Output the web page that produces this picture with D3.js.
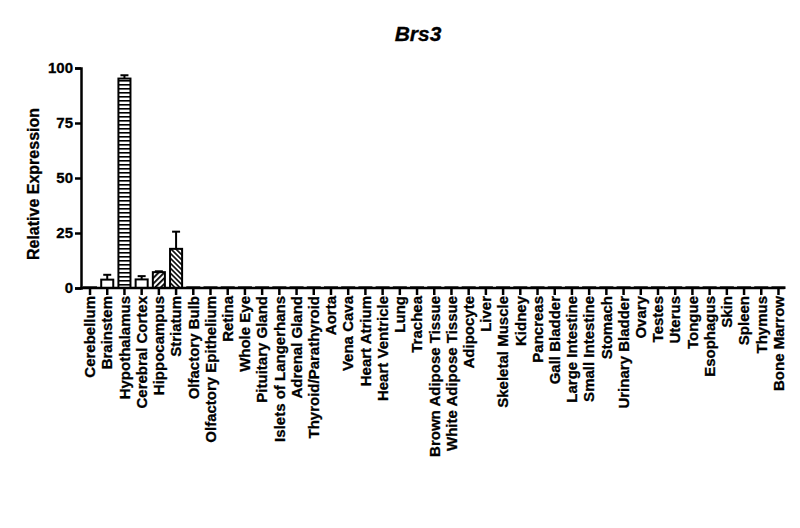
<!DOCTYPE html>
<html>
<head>
<meta charset="utf-8">
<script src="https://cdn.jsdelivr.net/npm/d3@7"></script>
<style>
  body { margin: 0; background: #fff; }
  text { font-family: "Liberation Sans", Arial, sans-serif; font-weight: bold; fill: #000; stroke: #000; stroke-width: 0.3px; }
</style>
</head>
<body>
<div id="chart"></div>
<script>
var tissues = ["Cerebellum", "Brainstem", "Hypothalamus", "Cerebral Cortex", "Hippocampus",
  "Striatum", "Olfactory Bulb", "Olfactory Epithelium", "Retina", "Whole Eye",
  "Pituitary Gland", "Islets of Langerhans", "Adrenal Gland", "Thyroid/Parathyroid", "Aorta",
  "Vena Cava", "Heart Atrium", "Heart Ventricle", "Lung", "Trachea",
  "Brown Adipose Tissue", "White Adipose Tissue", "Adipocyte", "Liver", "Skeletal Muscle",
  "Kidney", "Pancreas", "Gall Bladder", "Large Intestine", "Small Intestine",
  "Stomach", "Urinary Bladder", "Ovary", "Testes", "Uterus",
  "Tongue", "Esophagus", "Skin", "Spleen", "Thymus", "Bone Marrow"];

var means = [0.3, 3.8, 95.2, 3.9, 7.2, 17.8, 0.3, 0.3, 0.3, 0.3,
  0.3, 0.3, 0.3, 0.3, 0.3, 0.3, 0.3, 0.3, 0.3, 0.3,
  0.3, 0.3, 0.3, 0.3, 0.3, 0.3, 0.3, 0.3, 0.3, 0.3,
  0.3, 0.3, 0.3, 0.3, 0.3, 0.3, 0.3, 0.3, 0.3, 0.3, 0.3];

var errors = [0, 2.2, 1.5, 1.5, 0.4, 7.8, 0, 0, 0, 0,
  0, 0, 0, 0, 0, 0, 0, 0, 0, 0,
  0, 0, 0, 0, 0, 0, 0, 0, 0, 0,
  0, 0, 0, 0, 0, 0, 0, 0, 0, 0, 0];

// fill per bar: GraphPad-style patterns on the brain regions
var fills = ["#fff", "#fff", "url(#hstripe)", "#fff", "url(#fwd)", "url(#back)"];

var yTicks = [0, 25, 50, 75, 100];

var width = 800, height = 528;

var svg = d3.select("#chart").append("svg")
    .attr("width", width)
    .attr("height", height);

var defs = svg.append("defs");

var hs = defs.append("pattern").attr("id", "hstripe")
    .attr("patternUnits", "userSpaceOnUse").attr("width", 6).attr("height", 4);
hs.append("rect").attr("width", 6).attr("height", 4).attr("fill", "#fff");
hs.append("rect").attr("y", 0).attr("width", 6).attr("height", 1.6).attr("fill", "#000");

var fw = defs.append("pattern").attr("id", "fwd")
    .attr("patternUnits", "userSpaceOnUse").attr("width", 4).attr("height", 4)
    .attr("patternTransform", "rotate(45)");
fw.append("rect").attr("width", 4).attr("height", 4).attr("fill", "#fff");
fw.append("rect").attr("width", 1.8).attr("height", 4).attr("fill", "#000");

var bk = defs.append("pattern").attr("id", "back")
    .attr("patternUnits", "userSpaceOnUse").attr("width", 3.5).attr("height", 3.5)
    .attr("patternTransform", "rotate(-45)");
bk.append("rect").attr("width", 3.5).attr("height", 3.5).attr("fill", "#fff");
bk.append("rect").attr("width", 1.6).attr("height", 3.5).attr("fill", "#000");

var x = d3.scaleBand()
    .domain(tissues)
    .range([84, 784.5])
    .padding(0.3)
    .paddingOuter(0);

var y = d3.scaleLinear()
    .domain([0, 100])
    .range([288, 68]);

// title
svg.append("text")
    .attr("x", 418).attr("y", 41)
    .attr("text-anchor", "middle")
    .style("font-size", "21px")
    .style("font-style", "italic")
    .text("Brs3");

// y label
svg.append("text")
    .attr("transform", "translate(39,184) rotate(-90)")
    .attr("text-anchor", "middle")
    .style("font-size", "16px")
    .text("Relative Expression");

// bars
var bars = svg.append("g");
bars.selectAll("rect")
  .data(tissues)
  .enter().append("rect")
  .attr("x", function(d) { return x(d); })
  .attr("width", x.bandwidth())
  .attr("y", function(d, i) { return y(means[i]); })
  .attr("height", function(d, i) { return y(0) - y(means[i]); })
  .attr("fill", function(d, i) { return fills[i] || "#fff"; })
  .attr("stroke", "#000")
  .attr("stroke-width", 2);

// error bars (upper only)
var err = svg.append("g").attr("stroke", "#000").attr("stroke-width", 2);
tissues.forEach(function(t, i) {
  if (!errors[i]) return;
  var cx = x(t) + x.bandwidth() / 2;
  err.append("line")
    .attr("x1", cx).attr("x2", cx)
    .attr("y1", y(means[i])).attr("y2", y(means[i] + errors[i]));
  err.append("line")
    .attr("x1", cx - 4).attr("x2", cx + 4)
    .attr("y1", y(means[i] + errors[i])).attr("y2", y(means[i] + errors[i]));
});

// y axis
var yAxis = svg.append("g")
    .attr("transform", "translate(81,0)")
    .call(d3.axisLeft(y).tickValues(yTicks).tickSize(6).tickPadding(2));
yAxis.select(".domain").attr("stroke-width", 2.5);
yAxis.selectAll(".tick line").attr("stroke-width", 2.5);
yAxis.selectAll(".tick text").style("font-size", "15px").style("font-family", null);

// x axis
var xAxis = svg.append("g")
    .attr("transform", "translate(0,288)")
    .call(d3.axisBottom(x).tickSize(7).tickSizeOuter(0));
xAxis.select(".domain").attr("stroke-width", 2.5).attr("d", "M80,0H784.5");
xAxis.selectAll(".tick line").attr("stroke-width", 2.5);
xAxis.selectAll(".tick text")
    .style("font-size", "15px")
    .style("font-family", null)
    .attr("text-anchor", "end")
    .attr("transform", "rotate(-90)")
    .attr("x", -8)
    .attr("y", 0)
    .attr("dy", "0.35em");
</script>
</body>
</html>
